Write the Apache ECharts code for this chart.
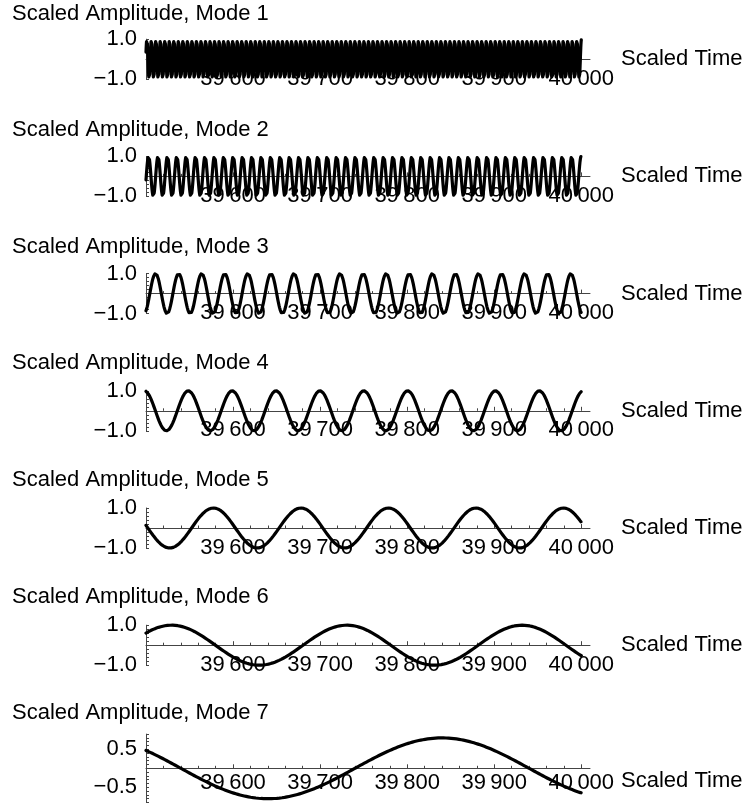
<!DOCTYPE html>
<html>
<head>
<meta charset="utf-8">
<script src="https://cdn.jsdelivr.net/npm/echarts@6/dist/echarts.min.js"></script>
<style>
  html, body { margin: 0; padding: 0; background: #fff; }
  #chart { width: 748px; height: 805px; }
</style>
</head>
<body>
<div id="chart"></div>
<script>
// Panel titles, one per normal mode
const modeTitles = [
  'Scaled Amplitude, Mode 1',
  'Scaled Amplitude, Mode 2',
  'Scaled Amplitude, Mode 3',
  'Scaled Amplitude, Mode 4',
  'Scaled Amplitude, Mode 5',
  'Scaled Amplitude, Mode 6',
  'Scaled Amplitude, Mode 7'
];
// Oscillation period of each mode (scaled time units)
const modePeriods = [5.2, 10.8, 26.5, 50.4, 100.5, 201.3, 400];
// Time of one crest of each mode
const modePeakTimes = [39501, 39503, 39511, 39498.2, 39577.5, 39529.4, 39840];
// Scaled amplitude of each mode
const modeAmplitudes = [1, 1, 1, 1, 1, 1, 0.8];

// Time window
const timeStart = 39500;
const timeEnd = 40000;
const timeStep = 0.2;

// Time axis ticks
const timeTickValues = [39600, 39700, 39800, 39900, 40000];
const timeMinorTickValues = [
  39520, 39540, 39560, 39580, 39620, 39640, 39660, 39680,
  39720, 39740, 39760, 39780, 39820, 39840, 39860, 39880,
  39920, 39940, 39960, 39980
];

// Amplitude axis labels
const unitAmpTickValues = [-1, 1];
const unitAmpTickLabels = ['\u22121.0', '1.0'];
const halfAmpTickValues = [-0.5, 0.5];
const halfAmpTickLabels = ['\u22120.5', '0.5'];

const FONT = "'Liberation Sans', Arial, sans-serif";
const AXIS_COLOR = '#444';

function modeSamples(k) {
  const pts = [];
  const n = Math.round((timeEnd - timeStart) / timeStep);
  for (let i = 0; i <= n; i++) {
    const t = timeStart + i * timeStep;
    pts.push([t, modeAmplitudes[k] * Math.cos(2 * Math.PI * (t - modePeakTimes[k]) / modePeriods[k])]);
  }
  return pts;
}

function timeLabel(v) {
  const s = String(Math.round(v));
  return s.slice(0, 2) + '\u2009' + s.slice(2);
}

const titles = [], grids = [], xAxes = [], yAxes = [], series = [];

modeTitles.forEach((name, k) => {
  const last = k === modeTitles.length - 1;
  const zeroY = last ? 768.3 : 59.2 + 117.2 * k;
  const halfPx = last ? 34.2 : 20;
  const yLim = last ? 0.9 : 1;
  // distance from the zero line down to the top of the time labels
  const labelDrop = last ? 4 : 8.5;

  titles.push({
    text: name,
    left: 12,
    top: 13.5 + 116.6 * k - 11,
    padding: 0,
    textStyle: { fontFamily: FONT, fontSize: 22, fontWeight: 'normal', color: '#000' }
  });

  grids.push({
    left: 146, width: 444,
    top: zeroY - halfPx, height: 2 * halfPx,
    outerBoundsMode: 'none',
    containLabel: false
  });

  // major ticks, labels and axis line
  xAxes.push({
    gridIndex: k,
    type: 'value',
    min: timeStart,
    max: 40010,
    position: 'bottom',
    name: 'Scaled Time',
    nameLocation: 'end',
    nameGap: 31,
    nameTextStyle: {
      fontFamily: FONT, fontSize: 22, color: '#000',
      align: 'left',
      verticalAlign: last ? 'top' : 'middle',
      lineHeight: last ? 26 : 22
    },
    axisLine: { show: true, onZero: true, lineStyle: { color: AXIS_COLOR, width: 1 } },
    axisTick: { show: true, inside: true, length: 4, customValues: timeTickValues,
                lineStyle: { color: AXIS_COLOR, width: 1 } },
    axisLabel: { show: true, customValues: timeTickValues, formatter: timeLabel,
                 margin: labelDrop - halfPx, fontFamily: FONT, fontSize: 22, color: '#000' },
    splitLine: { show: false },
    minorTick: { show: false },
    splitArea: { show: false }
  });

  // minor ticks
  xAxes.push({
    gridIndex: k,
    type: 'value',
    min: timeStart,
    max: 40010,
    position: 'bottom',
    axisLine: { show: false, onZero: true, onZeroAxisIndex: k },
    axisTick: { show: true, inside: true, length: 2.5, customValues: timeMinorTickValues,
                lineStyle: { color: AXIS_COLOR, width: 1 } },
    axisLabel: { show: false },
    splitLine: { show: false }
  });

  const tickVals = last ? halfAmpTickValues : unitAmpTickValues;
  const tickLabs = last ? halfAmpTickLabels : unitAmpTickLabels;
  yAxes.push({
    gridIndex: k,
    type: 'value',
    min: -yLim,
    max: yLim,
    interval: last ? 0.1 : 0.2,
    axisLine: { show: true, onZero: false, lineStyle: { color: AXIS_COLOR, width: 1 } },
    axisTick: { show: true, inside: true, length: 3, lineStyle: { color: AXIS_COLOR, width: 1 } },
    axisLabel: {
      show: true,
      customValues: tickVals,
      formatter: v => {
        const i = tickVals.findIndex(t => Math.abs(t - v) < 1e-6);
        return i >= 0 ? tickLabs[i] : '';
      },
      margin: 9, fontFamily: FONT, fontSize: 22, color: '#000'
    },
    splitLine: { show: false }
  });

  series.push({
    type: 'line',
    xAxisIndex: 2 * k,
    yAxisIndex: k,
    data: modeSamples(k),
    showSymbol: false,
    symbol: 'none',
    clip: false,
    silent: true,
    lineStyle: { color: '#000', width: 3.2, join: 'round', cap: 'round' },
    z: 5
  });
});

const chart = echarts.init(document.getElementById('chart'), null, { renderer: 'canvas' });
chart.setOption({
  animation: false,
  backgroundColor: '#fff',
  title: titles,
  grid: grids,
  xAxis: xAxes,
  yAxis: yAxes,
  series: series
});
</script>
</body>
</html>
